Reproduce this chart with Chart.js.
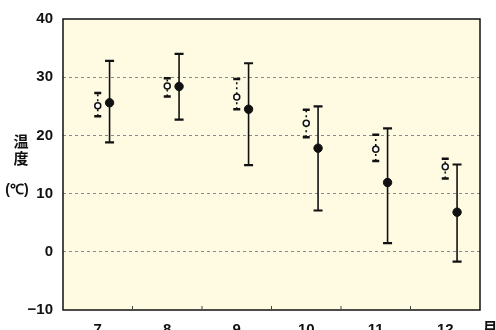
<!DOCTYPE html>
<html>
<head>
<meta charset="utf-8">
<script src="https://cdn.jsdelivr.net/npm/chart.js@4"></script>
<style>
  html, body { margin: 0; padding: 0; background: #fff; overflow: hidden; }
  #wrap { width: 496px; height: 345px; }
</style>
</head>
<body>
<div id="wrap"><canvas id="chart"></canvas></div>
<script>
// months on the x axis
const months = [7, 8, 9, 10, 11, 12];
const yTicks = [-10, 0, 10, 20, 30, 40];

// open circles: mean with range
const openMean = [25.1, 28.5, 26.6, 22.1, 17.6, 14.6];
const openHigh = [27.3, 29.8, 29.7, 24.4, 20.1, 16.0];
const openLow  = [23.3, 26.7, 24.5, 19.7, 15.6, 12.6];

// filled circles: mean with range
const filledMean = [25.6, 28.4, 24.5, 17.8, 11.9, 6.8];
const filledHigh = [32.8, 34.0, 32.4, 25.0, 21.2, 15.0];
const filledLow  = [18.8, 22.7, 14.9, 7.1, 1.5, -1.7];

const shift = 0.17; // filled series drawn a little to the right

const tickFont = { family: '"Liberation Sans", Arial, sans-serif', size: 15, weight: 'bold' };

const decor = {
  id: 'decor',
  beforeDraw(chart) {
    const { ctx, chartArea: a } = chart;
    ctx.save();
    ctx.fillStyle = '#fefbe2';
    ctx.fillRect(a.left, a.top, a.right - a.left, a.bottom - a.top);
    ctx.restore();
  },
  beforeDatasetsDraw(chart) {
    const { ctx, scales: { x, y } } = chart;
    ctx.save();
    ctx.strokeStyle = '#111';
    const bar = (xv, lo, hi, capW, lw, capLw, dash) => {
      const px = x.getPixelForValue(xv);
      const yl = y.getPixelForValue(lo), yh = y.getPixelForValue(hi);
      ctx.lineWidth = lw;
      ctx.setLineDash(dash);
      ctx.beginPath(); ctx.moveTo(px, yl); ctx.lineTo(px, yh); ctx.stroke();
      ctx.setLineDash([]);
      ctx.lineWidth = capLw;
      ctx.beginPath();
      ctx.moveTo(px - capW / 2, yl); ctx.lineTo(px + capW / 2, yl);
      ctx.moveTo(px - capW / 2, yh); ctx.lineTo(px + capW / 2, yh);
      ctx.stroke();
    };
    months.forEach((m, i) => {
      bar(m, openLow[i], openHigh[i], 7, 1.6, 2.5, [2, 3]);
      bar(m + shift, filledLow[i], filledHigh[i], 9, 1.6, 2.2, []);
    });
    ctx.restore();
  },
  afterDraw(chart) {
    const { ctx, chartArea: a, scales: { x } } = chart;
    ctx.save();
    ctx.strokeStyle = '#111';
    ctx.lineWidth = 1.5;
    ctx.strokeRect(a.left, a.top, a.right - a.left, a.bottom - a.top);
    // short ticks between months
    ctx.lineWidth = 1;
    ctx.strokeStyle = '#444';
    for (let i = 0; i < months.length - 1; i++) {
      const px = x.getPixelForValue(months[i] + 0.5);
      ctx.beginPath(); ctx.moveTo(px, a.bottom); ctx.lineTo(px, a.bottom - 4); ctx.stroke();
    }
    ctx.fillStyle = '#111';
    ctx.font = 'bold 15px "Noto Sans CJK JP", sans-serif';
    ctx.textAlign = 'center';
    ctx.textBaseline = 'middle';
    ctx.fillText('温', 21, 141);
    ctx.fillText('度', 21, 158);
    ctx.font = 'bold 14px "Liberation Sans", Arial, sans-serif';
    ctx.fillText('(℃)', 17, 190);
    ctx.font = 'bold 15px "Noto Sans CJK JP", sans-serif';
    ctx.fillText('月', 490, 327);
    ctx.restore();
  }
};

new Chart(document.getElementById('chart'), {
  type: 'scatter',
  data: {
    datasets: [
      {
        label: 'open',
        data: months.map((m, i) => ({ x: m, y: openMean[i] })),
        pointRadius: 3,
        pointBackgroundColor: '#fff',
        pointBorderColor: '#111',
        pointBorderWidth: 1.5
      },
      {
        label: 'filled',
        data: months.map((m, i) => ({ x: m + shift, y: filledMean[i] })),
        pointRadius: 4.2,
        pointBackgroundColor: '#111',
        pointBorderColor: '#111',
        pointBorderWidth: 1
      }
    ]
  },
  plugins: [decor],
  options: {
    responsive: true,
    maintainAspectRatio: false,
    animation: false,
    layout: { padding: { top: 14, right: 16, left: 0, bottom: 0 } },
    plugins: { legend: { display: false }, tooltip: { enabled: false } },
    scales: {
      x: {
        type: 'linear',
        min: 6.5,
        max: 12.5,
        afterBuildTicks: s => { s.ticks = months.map(v => ({ value: v })); },
        afterFit: s => { s.height = 345 - 14 - 296; },
        grid: { display: false, drawTicks: false },
        border: { display: false },
        ticks: { color: '#111', font: tickFont, padding: 11, maxRotation: 0 }
      },
      y: {
        min: -10,
        max: 40,
        afterBuildTicks: s => { s.ticks = yTicks.map(v => ({ value: v })); },
        afterFit: s => { s.width = 63; },
        grid: {
          drawTicks: false,
          color: c => (c.tick && (c.tick.value === 40 || c.tick.value === -10)) ? 'rgba(0,0,0,0)' : '#888',
          lineWidth: 1
        },
        border: { display: false, dash: [3, 3] },
        ticks: {
          color: '#111',
          font: tickFont,
          padding: 10,
          callback: v => String(v).replace('-', '−')
        }
      }
    }
  }
});
</script>
</body>
</html>
